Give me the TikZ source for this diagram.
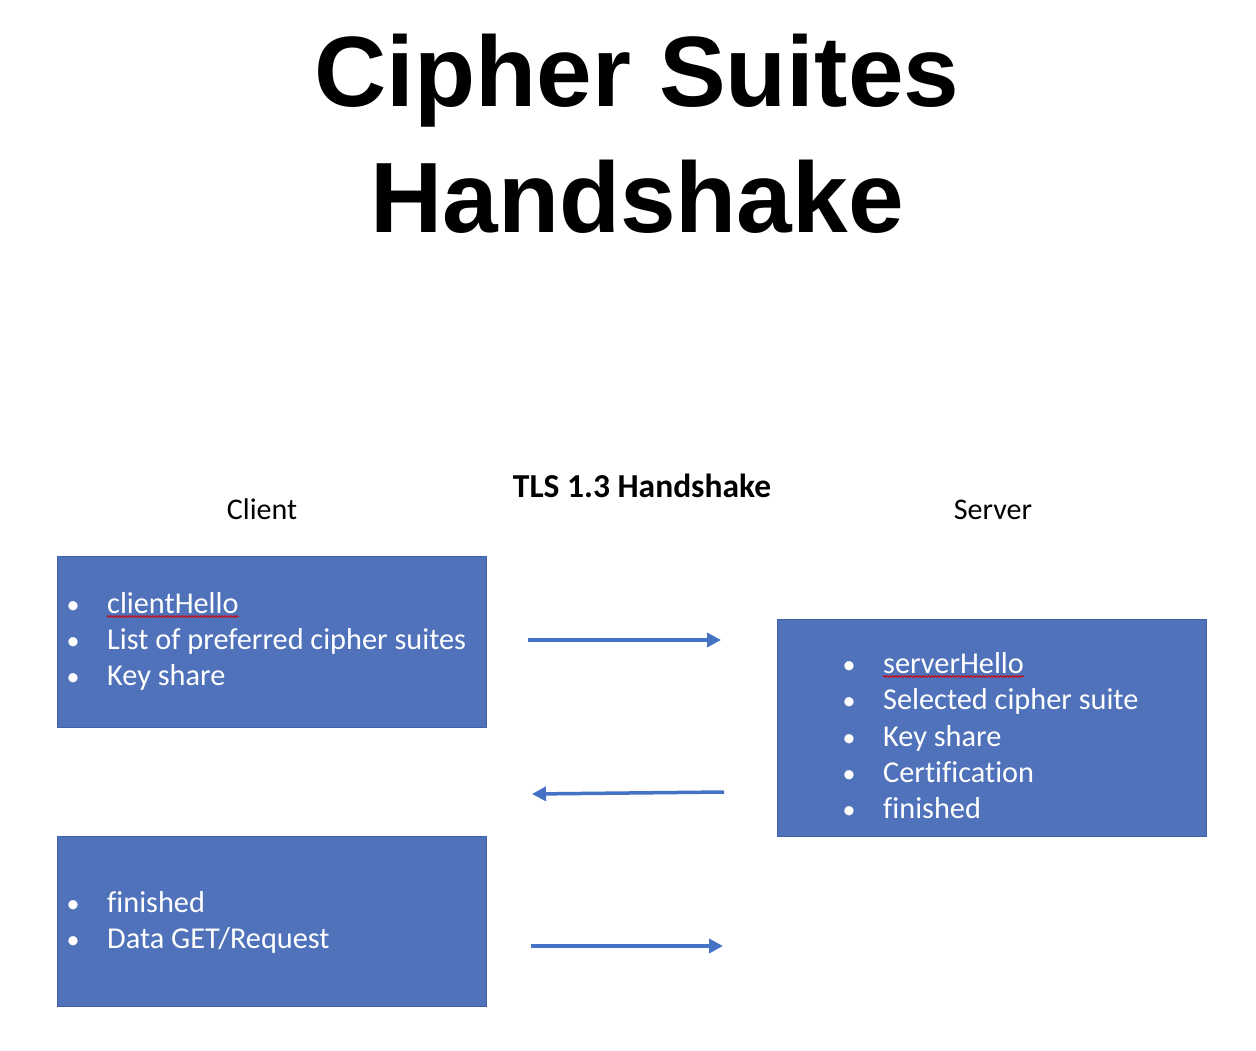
\documentclass[tikz,border=0pt]{standalone}
\usepackage{fontspec}
\setmainfont{Carlito}[Ligatures=CommonOff]
\newfontfamily\titlefont{Liberation Sans}
\usetikzlibrary{arrows.meta,decorations.pathmorphing}
\definecolor{boxblue}{HTML}{4F72BA}
\definecolor{boxedge}{HTML}{3F62A6}
\definecolor{arrowblue}{HTML}{4472C4}
\newcommand{\bul}{\makebox[0pt][r]{\makebox[0pt][c]{\fontsize{26}{26}\selectfont •}\hspace{34pt}}}
\tikzset{
  bigtitle/.style={anchor=base, inner sep=0, font=\titlefont\bfseries\fontsize{100}{120}\selectfont},
  label/.style={anchor=base, inner sep=0, font=\fontsize{30}{36}\selectfont},
  msgbox/.style={draw=boxedge, line width=1pt, fill=boxblue},
  item/.style={anchor=base west, inner sep=0, text=white, font=\fontsize{30.3}{36}\selectfont},
  msg/.style={draw=arrowblue, line width=3.5pt, -{Triangle[length=14pt,width=14pt]}},
  spell/.style={draw=red!85!black, line width=0.8pt, decorate, decoration={snake, segment length=3pt, amplitude=0.9pt}}
}
\begin{document}
\begin{tikzpicture}[x=1pt,y=-1pt]
\useasboundingbox (0,0) rectangle (1256,1050);
% title
\node[bigtitle] (t1) at (637,106) {Cipher Suites};
\node[bigtitle] (t2) at (637,232) {Handshake};
% headings
\node[label, font=\bfseries\fontsize{33.5}{36}\selectfont] (tls) at (642,497) {TLS 1.3 Handshake};
\node[label] (client) at (262,519) {Client};
\node[label] (server) at (993,519) {Server};
% boxes
\path[msgbox] (57,556) rectangle (486,727);
\node[inner sep=0] (cbox1) at (271.5,641.5) {};
\path[msgbox] (777,619) rectangle (1206,836);
\node[inner sep=0] (sbox) at (991.5,727.5) {};
\path[msgbox] (57,836) rectangle (486,1006);
\node[inner sep=0] (cbox2) at (271.5,921) {};
% client box 1 items
\node[item] (c1) at (107,613) {\bul clientHello};
\node[item] (c2) at (107,649) {\bul List of preferred cipher suites};
\node[item] (c3) at (107,685) {\bul Key share};
% server box items
\node[item] (s1) at (883,673) {\bul serverHello};
\node[item] (s2) at (883,709) {\bul Selected cipher suite};
\node[item] (s3) at (883,746) {\bul Key share};
\node[item] (s4) at (883,782) {\bul Certification};
\node[item] (s5) at (883,818) {\bul finished};
% client box 2 items
\node[item] (d1) at (107,912) {\bul finished};
\node[item] (d2) at (107,948) {\bul Data GET/Request};
% spell-check underlines
\draw[spell] ([yshift=-3.5pt]c1.base west) -- ([yshift=-3.5pt]c1.base east);
\draw[spell] ([yshift=-3.5pt]s1.base west) -- ([yshift=-3.5pt]s1.base east);
% arrows
\coordinate (a1s) at (528,640);
\coordinate (a1e) at (721,640);
\coordinate (a2s) at (724,792);
\coordinate (a2e) at (532,794);
\coordinate (a3s) at (531,946);
\coordinate (a3e) at (723,946);
\draw[msg] (a1s) -- (a1e);
\draw[msg] (a2s) -- (a2e);
\draw[msg] (a3s) -- (a3e);
\end{tikzpicture}
\end{document}
